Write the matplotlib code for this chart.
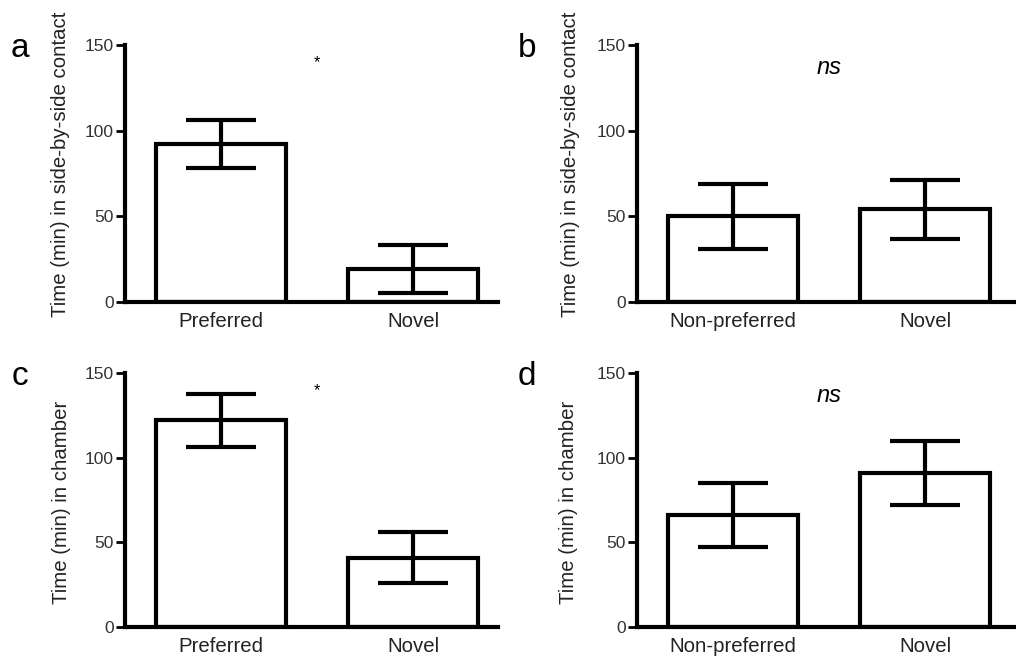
import numpy as np
import matplotlib
matplotlib.use("Agg")
from matplotlib import pyplot as plt

plt.rcParams['font.family'] = ['Liberation Sans', 'DejaVu Sans']

# group names
cats_pref = ["Preferred", "Novel"]
cats_nonpref = ["Non-preferred", "Novel"]

# mean and SEM, minutes
a_mean = [92, 19]
a_err = [14, 14]
b_mean = [50, 54]
b_err = [19, 17]
c_mean = [122, 41]
c_err = [15.5, 15]
d_mean = [66, 91]
d_err = [19, 19]

lab_contact = "Time (min) in side-by-side contact"
lab_chamber = "Time (min) in chamber"
marks = ["*", "ns", "*", "ns"]
letters = ["a", "b", "c", "d"]

W, H = 1016, 660
fig = plt.figure(figsize=(W / 100, H / 100), dpi=100)

# axes boxes in pixels: left, bottom(from top), right, top(from top)
boxes = [(125, 302, 498, 45), (637, 302, 1016, 45),
         (125, 627, 498, 373), (637, 627, 1016, 373)]
panels = [(cats_pref, a_mean, a_err, lab_contact),
          (cats_nonpref, b_mean, b_err, lab_contact),
          (cats_pref, c_mean, c_err, lab_chamber),
          (cats_nonpref, d_mean, d_err, lab_chamber)]
label_y = [0.537, 0.537, 0.49, 0.49]
label_x = [-0.1475, -0.150, -0.145, -0.155]
letter_pos = [(20, 57), (527, 57), (20, 385), (527, 385)]

lw = 3.0
for i, (cats, mean, err, ylab) in enumerate(panels):
    l, b, r, t = boxes[i]
    ax = fig.add_axes([l / W, 1 - b / H, (r - l) / W, (b - t) / H])
    x = np.arange(len(cats))
    ax.bar(x, mean, width=0.675, color='white', edgecolor='black',
           linewidth=lw, zorder=2)
    ax.errorbar(x, mean, yerr=err, fmt='none', ecolor='black',
                elinewidth=lw, capsize=25, capthick=lw, zorder=3)
    px_unit = 192.0
    ax.set_xlim(-0.5, -0.5 + (r - l) / px_unit)
    ax.set_ylim(0, 150)
    ax.set_yticks([0, 50, 100, 150])
    ax.set_xticks(x)
    ax.set_xticklabels(cats, fontsize=14.7, color='#222222')
    ax.tick_params(axis='x', length=0, pad=7)
    ax.tick_params(axis='y', length=6.5, width=2, pad=1.5,
                   labelsize=12.5, labelcolor='#333333')
    for s in ['top', 'right']:
        ax.spines[s].set_visible(False)
    for s in ['left', 'bottom']:
        ax.spines[s].set_linewidth(lw)
    ax.set_ylabel(ylab, fontsize=14.7, color='#222222')
    ax.yaxis.set_label_coords(label_x[i], label_y[i])
    if marks[i] == "*":
        ax.text(0.5, 139.5, "*", fontsize=12, ha='center', va='center')
    else:
        ax.text(0.5, 137, "ns", fontsize=17, style='italic',
                ha='center', va='center')
    lx, ly = letter_pos[i]
    fig.text(lx / W, 1 - ly / H, letters[i], fontsize=24,
             ha='center', va='baseline')

fig.savefig("out.png", dpi=100, facecolor='white')
